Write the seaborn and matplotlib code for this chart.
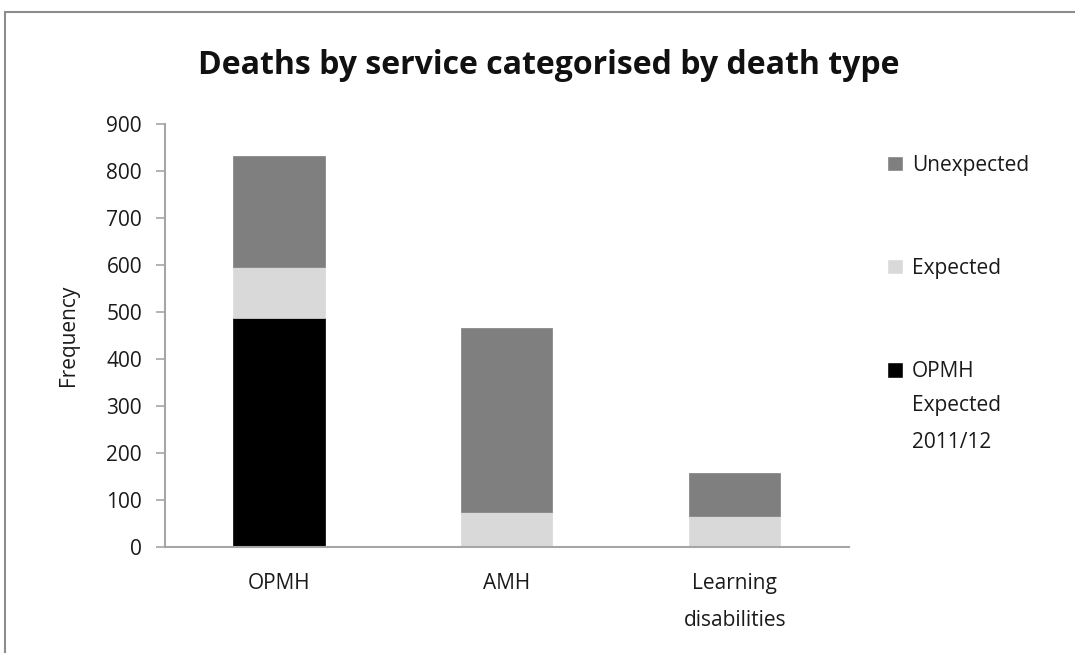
import numpy as np
import pandas as pd
import seaborn as sns
import matplotlib.pyplot as plt
from matplotlib.patches import Patch, Rectangle

# data
services = ['OPMH', 'AMH', 'Learning\ndisabilities']
opmh_expected_2011 = [487, 0, 0]
expected = [109, 73, 66]
unexpected = [237, 392, 90]

series_labels = ['Unexpected', 'Expected', 'OPMH']
colors = {'Unexpected': '#7f7f7f', 'Expected': '#d9d9d9', 'OPMH': '#000000'}

sns.set_style('white')
plt.rcParams['font.family'] = ['Open Sans', 'DejaVu Sans']

df = pd.DataFrame({'service': services, 'opmh': opmh_expected_2011,
                   'expected': expected, 'unexpected': unexpected})

fig = plt.figure(figsize=(10.75, 6.53), dpi=100)
ax = fig.add_axes([0.1535, 0.163, 0.636, 0.647])

# stacked bars
base = np.zeros(len(df))
for col, c in [('opmh', colors['OPMH']), ('expected', colors['Expected']),
               ('unexpected', colors['Unexpected'])]:
    sns.barplot(data=df, x='service', y=col, bottom=base, color=c,
                width=0.4, edgecolor=c, linewidth=0.5, saturation=1, ax=ax)
    base = base + df[col].values

ax.set_ylim(0, 900)
ax.set_xlim(-0.5, 2.5)
ax.set_yticks(range(0, 901, 100))
ax.set_xticks(range(3))
ax.set_xticklabels(services, linespacing=2.0)
ax.set_xticks([-0.5, 0.5, 1.5, 2.5], minor=True)
ax.tick_params(axis='x', which='major', length=0, labelsize=15, pad=19, labelcolor='#1a1a1a')
ax.tick_params(axis='x', which='minor', length=7, width=1.2, color='#a6a6a6')
ax.tick_params(axis='y', length=6.5, width=1.2, color='#a6a6a6', labelsize=15,
               pad=10, labelcolor='#1a1a1a', left=True)

sns.despine(ax=ax)
for s in ['left', 'bottom']:
    ax.spines[s].set_color('#a6a6a6')
    ax.spines[s].set_linewidth(1.5)

ax.set_xlabel('')
ax.set_ylabel('Frequency', fontsize=15, color='#1a1a1a', labelpad=20)

fig.suptitle('Deaths by service categorised by death type', x=0.51, y=0.925,
             fontsize=23, fontweight='bold', color='#111111')

handles = [Patch(facecolor=colors['Unexpected']), Patch(facecolor=colors['Expected']),
           Patch(facecolor=colors['OPMH'])]
leg = fig.legend(handles, series_labels, loc='upper left', bbox_to_anchor=(0.8175, 0.776),
                 frameon=False, fontsize=15, labelspacing=3.95, handlelength=0.75,
                 handleheight=0.75, handletextpad=0.45, labelcolor='#1a1a1a',
                 borderaxespad=0)

# rest of the third legend label, lined up under "OPMH"
fig.canvas.draw()
bb = leg.get_texts()[2].get_window_extent().transformed(fig.transFigure.inverted())
fig.text(bb.x0, bb.y0 - 0.02, 'Expected\n2011/12', ha='left', va='top',
         fontsize=15, color='#1a1a1a', linespacing=2.0)

# outer chart border
fig.add_artist(Rectangle((5 / 1075, -0.1), 1.2, 1 - 12 / 653 + 0.1, transform=fig.transFigure,
                         fill=False, edgecolor='#8c8c8c', linewidth=1.5))

fig.savefig('out.png', dpi=100)
